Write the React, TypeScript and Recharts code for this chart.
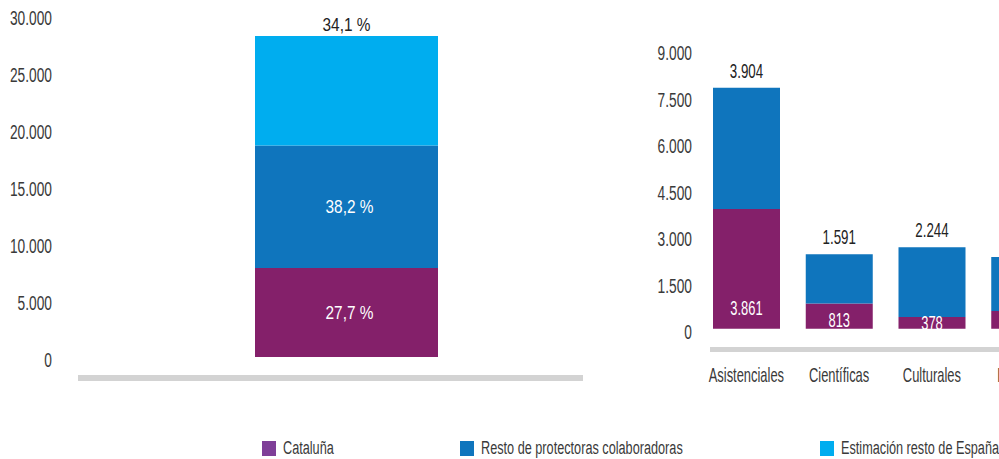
import React from 'react';
import { BarChart, Bar, XAxis, YAxis, LabelList, Legend } from 'recharts';

// ---------- data ----------
const seriesNames = ['Cataluña', 'Resto de protectoras colaboradoras', 'Estimación resto de España'];
const barColors = ['#84206a', '#0f75bd', '#00adef'];
const legendColors = ['#7f3f98', '#0f75bd', '#00adef'];

// left chart: total stacked bar
const totalCataluna = 7800;
const totalResto = 10750;
const totalEstimacion = 9600;
const sharePct = ['27,7 %', '38,2 %', '34,1 %'];
const leftTicks = [0, 5000, 10000, 15000, 20000, 25000, 30000];

// right chart: by type
const categories = ['Asistenciales', 'Científicas', 'Culturales', 'Docentes'];
const catalunaByType = [3861, 813, 378, 570];
const restoByType = [3904, 1591, 2244, 1740];
const rightTicks = [0, 1500, 3000, 4500, 6000, 7500, 9000];

const leftData = [{ name: 'Total', cat: totalCataluna, resto: totalResto, est: totalEstimacion }];
const rightData = categories.map((c, i) => ({ name: c, cat: catalunaByType[i], resto: restoByType[i] }));

// ---------- styling helpers ----------
const FONT = "'Liberation Sans', Arial, sans-serif";
const fmt = (n: number) => String(n).replace(/\B(?=(\d{3})+(?!\d))/g, '.');

function CText({ x, y, text, size, sx, anchor = 'middle', fill = '#333', weight = 'normal' }: any) {
  return (
    <g transform={`translate(${x},${y})`}>
      <text transform={`scale(${sx},1)`} textAnchor={anchor} dy="0.355em" fontSize={size} fill={fill} fontFamily={FONT} fontWeight={weight}>
        {text}
      </text>
    </g>
  );
}

const YTick = (props: any) => {
  const { x, y, payload } = props;
  return <CText x={x} y={y + 3} text={fmt(payload.value)} size={21} sx={0.655} anchor="end" fill="#3a3a3a" />;
};

const CatTick = (props: any) => {
  const { x, y, payload } = props;
  return <CText x={x} y={y + 25.5} text={payload.value} size={21} sx={0.615} fill="#3a3a3a" />;
};

const pctCenter = (i: number) => (props: any) => {
  const { x, y, width, height } = props;
  return <CText x={x + width / 2 + 3} y={y + height / 2} text={sharePct[i]} size={17.5} sx={0.88} fill="#ffffff" />;
};
const pctTop = (i: number) => (props: any) => {
  const { x, y, width } = props;
  return <CText x={x + width / 2} y={y - 11.5} text={sharePct[i]} size={17.5} sx={0.88} fill="#222222" />;
};

const catInside = (props: any) => {
  const { x, y, width, height, value } = props;
  const off = height > 40 ? 21 : Math.min(height / 2, 8.7);
  return <CText x={x + width / 2} y={y + height - off} text={fmt(value)} size={21} sx={0.615} fill="#ffffff" />;
};
const restoTop = (props: any) => {
  const { x, y, width, value } = props;
  return <CText x={x + width / 2} y={y - 17} text={fmt(value)} size={20} sx={0.666} fill="#222222" />;
};

const legendLefts = [261.5, 459.5, 819.5];
const renderLegend = () => (
  <div style={{ position: 'relative', width: 999, height: 459 }}>
    {seriesNames.map((n, i) => (
      <div key={n} style={{ position: 'absolute', left: legendLefts[i], top: 441, height: 15, display: 'flex', alignItems: 'center', whiteSpace: 'nowrap' }}>
        <div style={{ width: 14.5, height: 14.5, background: legendColors[i] }} />
        <span style={{ marginLeft: 6.5, fontFamily: FONT, fontSize: 18, color: '#3a3a3a', transform: 'scaleX(0.705)', transformOrigin: 'left center', display: 'inline-block', lineHeight: '15px' }}>{n}</span>
      </div>
    ))}
  </div>
);

export default function App() {
  return (
    <div style={{ position: 'fixed', left: 0, top: 0, width: 999, height: 459, overflow: 'hidden', background: '#ffffff' }}>
      <div style={{ position: 'absolute', left: 0, top: 0 }}>
        <BarChart width={600} height={459} data={leftData} margin={{ top: 15, right: 17, bottom: 80, left: 0 }}>
          <XAxis dataKey="name" type="category" height={1} tick={false} tickLine={false} axisLine={{ stroke: '#d3d3d3', strokeWidth: 6 }} padding={{ left: 32, right: 0 }} />
          <YAxis type="number" domain={[-1842, 30000]} ticks={leftTicks} width={78} axisLine={false} tickLine={false} tickSize={0} tickMargin={26} tick={<YTick />} interval={0} />
          <Bar dataKey="cat" name={seriesNames[0]} stackId="a" fill={barColors[0]} barSize={183} isAnimationActive={false}>
            <LabelList dataKey="cat" content={pctCenter(0)} />
          </Bar>
          <Bar dataKey="resto" name={seriesNames[1]} stackId="a" fill={barColors[1]} barSize={183} isAnimationActive={false}>
            <LabelList dataKey="resto" content={pctCenter(1)} />
          </Bar>
          <Bar dataKey="est" name={seriesNames[2]} stackId="a" fill={barColors[2]} barSize={183} isAnimationActive={false}>
            <LabelList dataKey="est" content={pctTop(2)} />
          </Bar>
          <Legend layout="horizontal" verticalAlign="middle" align="center" content={renderLegend} wrapperStyle={{ left: 0, top: 0, width: 999, height: 459 }} />
        </BarChart>
      </div>
      <div style={{ position: 'absolute', left: 640, top: 0 }}>
        <BarChart width={431} height={459} data={rightData} margin={{ top: 49.5, right: 0, bottom: 79.5, left: 0 }}>
          <XAxis dataKey="name" type="category" height={30} tickLine={false} tickSize={0} tickMargin={0} tick={<CatTick />} interval={0} axisLine={{ stroke: '#d3d3d3', strokeWidth: 5 }} padding={{ left: -10, right: 0 }} />
          <YAxis type="number" domain={[-670, 9000]} ticks={rightTicks} width={70} axisLine={false} tickLine={false} tickSize={0} tickMargin={18} tick={<YTick />} interval={0} />
          <Bar dataKey="cat" name={seriesNames[0]} stackId="b" fill={barColors[0]} barSize={67} isAnimationActive={false}>
            <LabelList dataKey="cat" content={catInside} />
          </Bar>
          <Bar dataKey="resto" name={seriesNames[1]} stackId="b" fill={barColors[1]} barSize={67} isAnimationActive={false}>
            <LabelList dataKey="resto" content={restoTop} />
          </Bar>
        </BarChart>
      </div>
    </div>
  );
}
